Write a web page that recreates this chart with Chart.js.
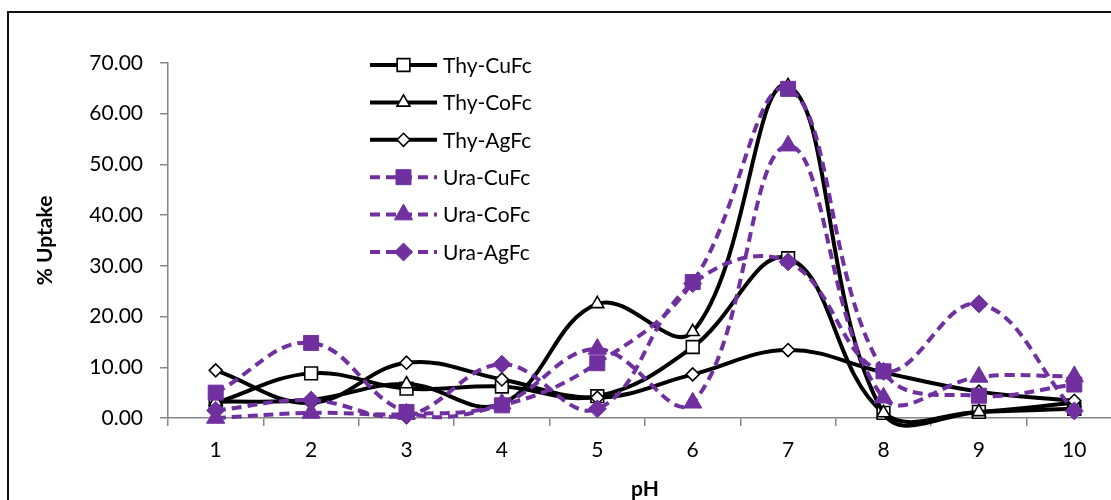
<!DOCTYPE html>
<html><head><meta charset="utf-8">
<script src="https://cdn.jsdelivr.net/npm/chart.js@4.4.0/dist/chart.umd.min.js"></script>
<style>
html,body{margin:0;padding:0;background:#fff;overflow:hidden;width:1111px;height:500px;}
#wrap{position:absolute;left:0;top:0;width:1140px;height:500px;}
</style></head><body>
<div id="wrap"><canvas id="c" width="1140" height="500"></canvas></div>
<script>
// pH categories
const phLabels = ['1','2','3','4','5','6','7','8','9','10'];
// y tick values
const yTicks = [0, 10, 20, 30, 40, 50, 60, 70];
// % uptake series
const thyCuFc = [3.0, 8.8, 5.8, 6.2, 4.3, 14.0, 31.5, 1.0, 1.2, 1.8];
const thyCoFc = [3.2, 3.6, 6.7, 2.8, 22.5, 17.0, 65.5, 1.0, 1.2, 3.0];
const thyAgFc = [9.4, 3.0, 10.9, 7.6, 4.0, 8.6, 13.4, 9.0, 5.2, 3.4];
const uraCuFc = [5.0, 14.8, 1.2, 2.5, 10.8, 26.8, 64.9, 9.2, 4.4, 6.6];
const uraCoFc = [0.0, 1.0, 0.8, 2.8, 13.6, 3.0, 53.7, 4.0, 8.1, 8.2];
const uraAgFc = [1.5, 3.5, 0.5, 10.6, 1.8, 26.5, 30.8, 9.2, 22.5, 1.4];

const PURPLE = '#7030A0';
const FONT = 'Lato';

function thy(label, data, style, r, order) {
  return { label, data, borderColor: '#000', borderWidth: 4, pointStyle: style,
    pointRadius: r, pointHoverRadius: r, pointBackgroundColor: '#fff', pointBorderColor: '#000',
    pointBorderWidth: 1.6, tension: 0.4, clip: false, fill: false, order };
}
function ura(label, data, style, r, order) {
  return { label, data, borderColor: PURPLE, borderWidth: 4, borderDash: [10, 6], pointStyle: style,
    pointRadius: r, pointHoverRadius: r, pointBackgroundColor: PURPLE, pointBorderColor: PURPLE,
    pointBorderWidth: 1, tension: 0.4, clip: false, fill: false, order };
}

const frame = {
  id: 'frame',
  beforeDraw(chart) {
    const ctx = chart.ctx;
    ctx.save();
    ctx.fillStyle = '#fff';
    ctx.fillRect(0, 0, chart.width, chart.height);
    ctx.strokeStyle = '#111';
    ctx.lineWidth = 2;
    ctx.beginPath();
    ctx.moveTo(8, 600); ctx.lineTo(8, 12); ctx.lineTo(1200, 12);
    ctx.stroke();
    ctx.restore();
  }
};

const legendPlugin = {
  id: 'excelLegend',
  afterDraw(chart) {
    const ctx = chart.ctx;
    const x0 = 370, x1 = 437, tx = 443, y0 = 65, dy = 37.4;
    chart.data.datasets.forEach((ds, i) => {
      const y = y0 + i * dy;
      ctx.save();
      ctx.strokeStyle = ds.borderColor;
      ctx.lineWidth = ds.borderWidth;
      ctx.setLineDash(ds.borderDash || []);
      ctx.beginPath(); ctx.moveTo(x0, y); ctx.lineTo(x1, y); ctx.stroke();
      ctx.setLineDash([]);
      ctx.fillStyle = ds.pointBackgroundColor;
      ctx.strokeStyle = ds.pointBorderColor;
      ctx.lineWidth = ds.pointBorderWidth;
      Chart.helpers.drawPoint(ctx, { pointStyle: ds.pointStyle, radius: ds.pointRadius,
        borderWidth: ds.pointBorderWidth, rotation: 0 }, (x0 + x1) / 2, y);
      ctx.fillStyle = '#000';
      ctx.font = '21px ' + FONT;
      ctx.textBaseline = 'middle';
      ctx.textAlign = 'left';
      ctx.fillText(ds.label, tx, y + 1);
      ctx.restore();
    });
  }
};

new Chart(document.getElementById('c'), {
  type: 'line',
  data: {
    labels: phLabels,
    datasets: [
      thy('Thy-CuFc', thyCuFc, 'rect', 9, 6),
      thy('Thy-CoFc', thyCoFc, 'triangle', 7.5, 5),
      thy('Thy-AgFc', thyAgFc, 'rectRot', 6.5, 4),
      ura('Ura-CuFc', uraCuFc, 'rect', 10.6, 3),
      ura('Ura-CoFc', uraCoFc, 'triangle', 10.5, 2),
      ura('Ura-AgFc', uraAgFc, 'rectRot', 9, 1)
    ]
  },
  options: {
    responsive: false,
    animation: false,
    devicePixelRatio: 1,
    layout: { padding: { left: 10, top: 63, right: 18, bottom: 0 } },
    elements: { line: { capBezierPoints: false } },
    plugins: { legend: { display: false }, tooltip: { enabled: false } },
    scales: {
      x: {
        type: 'category',
        offset: true,
        grid: { display: true, offset: true, drawOnChartArea: false, drawTicks: true, tickLength: 8, color: '#868686', lineWidth: 1.5 },
        border: { display: true, color: '#868686', width: 1.5 },
        ticks: { color: '#000', font: { family: FONT, size: 21 }, padding: 12, maxRotation: 0, autoSkip: false },
        title: { display: true, text: 'pH', color: '#000', font: { family: FONT, size: 21, weight: 'bold', lineHeight: 1 }, padding: { top: 0, bottom: 0 } },
        afterFit(s) { s.height = 82; }
      },
      y: {
        min: 0, max: 70,
        afterBuildTicks(s) { s.ticks = yTicks.map(v => ({ value: v })); },
        grid: { display: true, drawOnChartArea: false, drawTicks: true, tickLength: 8, color: '#868686', lineWidth: 1.5 },
        border: { display: true, color: '#868686', width: 1.5 },
        ticks: { color: '#000', font: { family: FONT, size: 21 }, padding: 17, callback: v => Number(v).toFixed(2) },
        title: { display: true, text: '% Uptake', color: '#000', font: { family: FONT, size: 21, weight: 'bold', lineHeight: 1.2 }, padding: { top: 23, bottom: 0 } },
        afterFit(s) { s.width = 158; }
      }
    }
  },
  plugins: [frame, legendPlugin]
});
</script>
</body></html>
